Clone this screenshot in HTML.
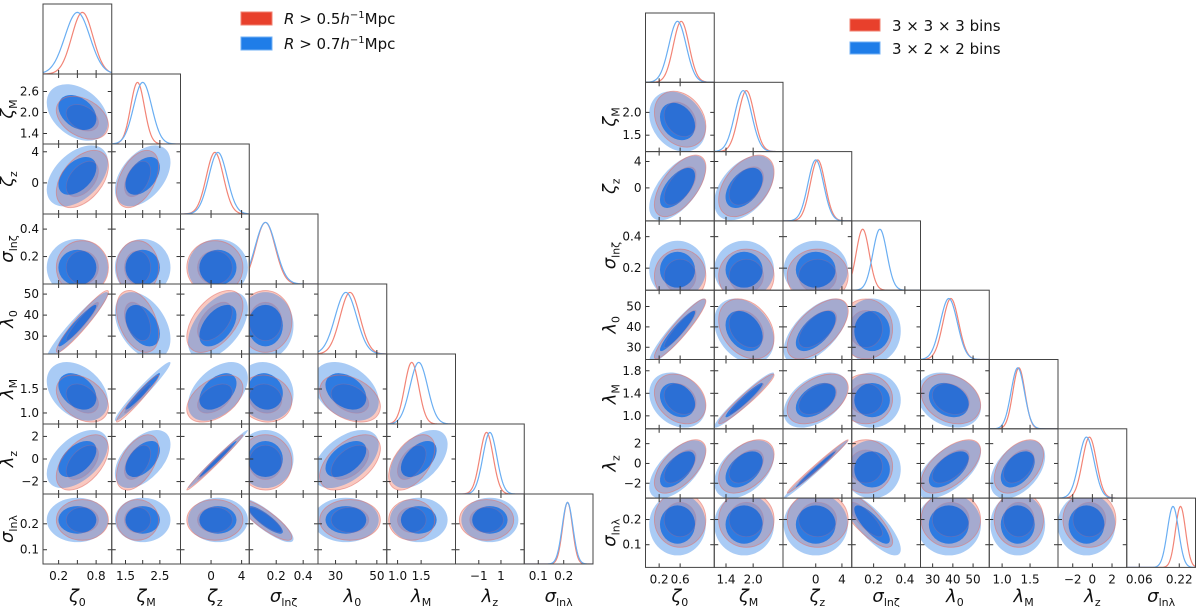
<!DOCTYPE html>
<html><head><meta charset="utf-8"><style>
html,body{margin:0;padding:0;background:#fff;}
svg{display:block;}
text{font-family:"DejaVu Sans","Liberation Sans",sans-serif;fill:#111;}
</style></head><body>
<svg id="fig" width="1200" height="607" viewBox="0 0 1200 607" xmlns="http://www.w3.org/2000/svg">
<g id="legend-left">
<rect x="241" y="12" width="31" height="13" fill="#e8402c" stroke="#f08070"/>
<text x="284" y="24" font-size="15"><tspan font-style="italic">R</tspan> &gt; 0.5<tspan font-style="italic">h</tspan><tspan dy="-6" font-size="10">−1</tspan><tspan dy="6">Mpc</tspan></text>
<rect x="241" y="37" width="31" height="13" fill="#1f7de8" stroke="#70b0f5"/>
<text x="284" y="49" font-size="15"><tspan font-style="italic">R</tspan> &gt; 0.7<tspan font-style="italic">h</tspan><tspan dy="-6" font-size="10">−1</tspan><tspan dy="6">Mpc</tspan></text>
</g>
<g id="legend-right">
<rect x="850" y="19" width="30" height="12" fill="#e8402c" stroke="#f08070"/>
<text x="892" y="31" font-size="15">3 × 3 × 3 bins</text>
<rect x="850" y="42" width="30" height="12" fill="#1f7de8" stroke="#70b0f5"/>
<text x="892" y="54" font-size="15">3 × 2 × 2 bins</text>
</g>
</svg>
<script>
// ---------- LEFT figure data ----------
const leftMin  = [-0.05, 1.1, -4, 0.0, 21.5, 0.77, -3.1, 0.045];
const leftMax  = [1.05, 3.1, 5, 0.51, 54.8, 2.23, 3.1, 0.315];
const leftRedMean  = [0.58, 1.85, 0.5, 0.12, 37, 1.3, -0.3, 0.215];
const leftRedSigma = [0.17, 0.25, 1.5, 0.08, 6, 0.2, 1.0, 0.032];
const leftBlueMean  = [0.5, 2.0, 0.9, 0.12, 35, 1.45, 0.0, 0.215];
const leftBlueSigma = [0.2, 0.33, 1.6, 0.085, 6.5, 0.25, 1.05, 0.035];
const leftMargScale = [1, 0.8, 0.75, 0.9, 0.8, 0.75, 0.6, 0.6];
const leftCorr = [
 [1],
 [-0.35,1],
 [0.45,0.45,1],
 [0,0,0,1],
 [0.95,-0.4,0.5,0,1],
 [-0.35,0.97,0.45,-0.1,-0.35,1],
 [0.5,0.5,0.99,0,0.5,0.5,1],
 [0,0,0,-0.85,0,0,0,1]
];
const leftXTicks = [[0.2,0.5,0.8],[1.5,2.0,2.5],[0,4],[0.2,0.4],[30,40,50],[1.0,1.5],[-1,1],[0.1,0.2]];
const leftXLabels = [["0.2","","0.8"],["1.5","","2.5"],["0","4"],["0.2","0.4"],["30","","50"],["1.0","1.5"],["−1","1"],["0.1","0.2"]];
const leftYTicks = [[],[1.4,2.0,2.6],[0,4],[0.2,0.4],[30,40,50],[1.0,1.5],[-2,0,2],[0.1,0.2]];
const leftYLabels = [[],["1.4","2.0","2.6"],["0","4"],["0.2","0.4"],["30","40","50"],["1.0","1.5"],["−2","0","2"],["0.1","0.2"]];

// ---------- RIGHT figure data ----------
const rightMin  = [-0.06, 1.14, -5, 0.06, 24, 0.77, -3.5, 0.01];
const rightMax  = [1.25, 2.66, 5.5, 0.5, 58, 2.0, 3.5, 0.285];
const rightRedMean  = [0.6, 1.85, 0.3, 0.15, 39, 1.3, -0.3, 0.2];
const rightRedSigma = [0.2, 0.25, 1.9, 0.07, 6, 0.18, 1.1, 0.045];
const rightBlueMean  = [0.55, 1.8, 0.0, 0.19, 38, 1.28, -0.6, 0.18];
const rightBlueSigma = [0.22, 0.27, 2.0, 0.075, 6.5, 0.2, 1.2, 0.05];
const rightMargScale = [0.75, 0.7, 0.6, 0.6, 0.65, 0.6, 0.65, 0.45];
const rightMargRedMean = [0.62, 1.85, 0.3, 0.13, 39, 1.3, -0.3, 0.225];
const rightMargBlueMean = [0.55, 1.78, 0.0, 0.24, 38, 1.28, -0.6, 0.195];
const rightCorr = [
 [1],
 [-0.25,1],
 [0.6,0.45,1],
 [0,0,0,1],
 [0.93,-0.3,0.6,0,1],
 [-0.25,0.96,0.45,0,-0.25,1],
 [0.6,0.45,0.99,0,0.6,0.45,1],
 [0,0,0,-0.8,0,0,0,1]
];
const rightXTicks = [[0.2,0.6],[1.4,2.0],[0,4],[0.2,0.4],[30,40,50],[1.0,1.5],[-2,0,2],[0.06,0.22]];
const rightXLabels = [["0.2","0.6"],["1.4","2.0"],["0","4"],["0.2","0.4"],["30","40","50"],["1.0","1.5"],["−2","0","2"],["0.06","0.22"]];
const rightYTicks = [[],[1.5,2.0],[0,4],[0.2,0.4],[30,40,50],[1.0,1.4,1.8],[-2,0,2],[0.1,0.2]];
const rightYLabels = [[],["1.5","2.0"],["0","4"],["0.2","0.4"],["30","40","50"],["1.0","1.4","1.8"],["−2","0","2"],["0.1","0.2"]];

const paramLabels = [["ζ","0"],["ζ","M"],["ζ","z"],["σ","lnζ"],["λ","0"],["λ","M"],["λ","z"],["σ","lnλ"]];

const NS = "http://www.w3.org/2000/svg";
const svg = document.getElementById('fig');
let clipId = 0;
function mk(tag, attrs, parent){ const e=document.createElementNS(NS,tag); for(const k in attrs) e.setAttribute(k,attrs[k]); if(parent) parent.appendChild(e); return e; }

function drawCorner(side, x0, y0, cw, ch, mn, mx, rM, rS, bM, bS, mScale, mrM, mbM, corr, xt, xl, yt, yl, xLabY){
  const N = mn.length;
  const g = mk('g',{}); svg.appendChild(g);
  
  
  const sx = (j,v)=> x0 + j*cw + (v-mn[j])/(mx[j]-mn[j])*cw;
  const sy = (i,v)=> y0 + (i+1)*ch - (v-mn[i])/(mx[i]-mn[i])*ch;
  for(let i=0;i<N;i++){
    for(let j=0;j<=i;j++){
      const cx = x0+j*cw, cy = y0+i*ch;
      const pg = mk('g',{},g);
      
      
      const cid = 'c'+(clipId++);
      const cp = mk('clipPath',{id:cid},pg); mk('rect',{x:cx,y:cy,width:cw,height:ch},cp);
      const inner = mk('g',{'clip-path':'url(#'+cid+')'},pg);
      if(i===j){
        const series = [[mrM[j],rS[j]*mScale[j],'#f28476'],[mbM[j],bS[j]*mScale[j],'#6aaef2']];
        series.forEach(([m,s,col],k)=>{
          let d='';
          for(let p=0;p<=100;p++){
            const v = mn[j]+(mx[j]-mn[j])*p/100;
            const yv = Math.exp(-0.5*((v-m)/s)**2);
            const X = sx(j,v), Y = cy+ch - yv*ch*0.88;
            d += (p?'L':'M')+X.toFixed(2)+','+Y.toFixed(2);
          }
          const path = mk('path',{d:d,fill:'none',stroke:col,'stroke-width':1.2},inner);
          
          
        });
      } else {
        const rho = corr[i][j];
        const ell = (m1,s1,m2,s2,k,attrs,name)=>{
          const px = s1/(mx[j]-mn[j])*cw, py = s2/(mx[i]-mn[i])*ch;
          const a = px*px, c = py*py, b = -rho*px*py;
          const tr=(a+c)/2, df=Math.sqrt(((a-c)/2)**2+b*b);
          const l1=tr+df, l2=Math.max(tr-df,0.02);
          const ang = 0.5*Math.atan2(2*b, a-c)*180/Math.PI;
          const X=sx(j,m1), Y=sy(i,m2);
          const e = mk('ellipse',Object.assign({cx:X,cy:Y,rx:k*Math.sqrt(l1),ry:k*Math.sqrt(l2),transform:'rotate('+ang+' '+X+' '+Y+')'},attrs),inner);
          
          
        };
        ell(rM[j],rS[j],rM[i],rS[i],2.45,{fill:'rgba(240,110,90,0.38)'},'red-95-contour');
        ell(bM[j],bS[j],bM[i],bS[i],2.45,{fill:'rgba(40,125,230,0.4)'},'blue-95-contour');
        ell(bM[j],bS[j],bM[i],bS[i],1.52,{fill:'rgba(25,115,228,0.85)'},'blue-68-contour');
        ell(rM[j],rS[j],rM[i],rS[i],2.45,{fill:'none',stroke:'rgba(225,110,100,0.55)','stroke-width':0.9},'red-95-outline');
        ell(rM[j],rS[j],rM[i],rS[i],1.52,{fill:'rgba(30,50,150,0.15)',stroke:'rgba(200,110,130,0.3)','stroke-width':0.8},'red-68-outline');
      }
      xt[j].forEach(v=>{
        const X=sx(j,v);
        mk('line',{x1:X,x2:X,y1:cy+ch,y2:cy+ch-4,stroke:'#333','stroke-width':1},pg);
        if(i!==j) mk('line',{x1:X,x2:X,y1:cy,y2:cy+4,stroke:'#333','stroke-width':1},pg);
      });
      if(i!==j) yt[i].forEach(v=>{
        const Y=sy(i,v);
        mk('line',{x1:cx,x2:cx+4,y1:Y,y2:Y,stroke:'#333','stroke-width':1},pg);
        mk('line',{x1:cx+cw,x2:cx+cw-4,y1:Y,y2:Y,stroke:'#333','stroke-width':1},pg);
      });
      mk('rect',{x:cx,y:cy,width:cw,height:ch,fill:'none',stroke:'#444','stroke-width':1},pg);
    }
  }
  for(let j=0;j<N;j++){
    xt[j].forEach((v,k)=>{
      const t = mk('text',{x:sx(j,v),y:y0+N*ch+16,'font-size':12,'text-anchor':'middle'},g);
      t.textContent = xl[j][k];
      
      
    });
    const t = mk('text',{x:x0+j*cw+cw/2,y:xLabY,'font-size':18,'text-anchor':'middle'},g);
    
    
    mk('tspan',{'font-style':'italic'},t).textContent=paramLabels[j][0];
    mk('tspan',{'font-size':11,dy:4},t).textContent=paramLabels[j][1];
  }
  for(let i=1;i<N;i++){
    yt[i].forEach((v,k)=>{
      const t = mk('text',{x:x0-4,y:sy(i,v)+4,'font-size':12,'text-anchor':'end'},g);
      t.textContent = yl[i][k];
      
      
    });
    const yc = y0+i*ch+ch/2, xc = x0-30;
    const t = mk('text',{x:xc,y:yc,'font-size':18,'text-anchor':'middle',transform:'rotate(-90 '+xc+' '+yc+')'},g);
    
    
    mk('tspan',{'font-style':'italic'},t).textContent=paramLabels[i][0];
    mk('tspan',{'font-size':11,dy:4},t).textContent=paramLabels[i][1];
  }
}
drawCorner('left', 43, 4, 68.75, 70, leftMin, leftMax, leftRedMean, leftRedSigma, leftBlueMean, leftBlueSigma, leftMargScale, leftRedMean, leftBlueMean, leftCorr, leftXTicks, leftXLabels, leftYTicks, leftYLabels, 602);
drawCorner('right', 645.5, 13, 68.75, 69.3, rightMin, rightMax, rightRedMean, rightRedSigma, rightBlueMean, rightBlueSigma, rightMargScale, rightMargRedMean, rightMargBlueMean, rightCorr, rightXTicks, rightXLabels, rightYTicks, rightYLabels, 602);
</script>
</body></html>
